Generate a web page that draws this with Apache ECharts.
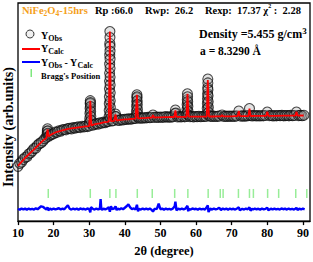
<!DOCTYPE html>
<html>
<head>
<meta charset="utf-8">
<script src="https://cdn.jsdelivr.net/npm/echarts@6/dist/echarts.min.js"></script>
<style>
  html, body { margin: 0; padding: 0; background: #fff; }
  #chart { width: 313px; height: 262px; }
</style>
</head>
<body>
<div id="chart"></div>
<script>
// observed pattern [2theta, intensity] (arb. units)
const obsData = [
  [10,555],[10.5,585],[11,598],[11.5,625],[12,645],[12.5,652],[13,680],[13.5,690],[14,712],[14.5,735],
  [15,740],[15.5,768],[16,785],[16.5,795],[17,812],[17.5,835],[18,850],
  [18.2,880],[18.25,910],[18.3,935],[18.35,915],[18.4,890],
  [18.7,860],[19,872],[19.5,878],[20,885],[20.5,902],[21,900],[21.5,915],[22,912],[22.5,925],[23,928],
  [23.5,925],[24,938],[24.5,940],[25,935],[25.5,948],[26,942],[26.5,950],[27,955],[27.5,948],[28,960],
  [28.5,955],[29,962],[29.5,958],[30,965],
  [30.12,1000],[30.16,1040],[30.2,1090],[30.24,1140],[30.27,1190],[30.3,1220],[30.33,1200],[30.36,1160],
  [30.4,1110],[30.44,1060],[30.48,1020],
  [31,972],[31.5,980],[32,988],[32.5,983],[33,995],[33.5,992],[34,1002],[34.5,998],[35,1008],[35.4,1010],
  [35.6,1060],[35.62,1120],[35.64,1190],[35.66,1260],[35.68,1340],[35.7,1420],[35.72,1500],[35.74,1590],
  [35.76,1680],[35.78,1800],[35.8,1920],[35.82,1860],[35.83,1770],[35.84,1720],[35.85,1640],[35.86,1550],
  [35.87,1460],[35.88,1380],[35.9,1300],[35.91,1220],[35.93,1150],[35.95,1090],[35.98,1040],
  [36.3,1015],[36.7,1018],[37.3,1060],[37.4,1085],[37.5,1060],[38,1022],[38.5,1020],[39,1028],[39.5,1025],
  [40,1032],[40.5,1030],[41,1036],[41.5,1033],[42,1035],[42.5,1040],[43,1040],
  [43.22,1070],[43.26,1110],[43.3,1160],[43.34,1210],[43.37,1250],[43.4,1280],[43.43,1260],[43.47,1220],
  [43.5,1180],[43.54,1130],[43.58,1090],[43.64,1055],
  [44,1042],[44.5,1045],[45,1042],[45.5,1048],[46,1045],[46.5,1050],[47,1048],[47.5,1052],[47.9,1075],
  [48.3,1050],[49,1053],[49.5,1050],[50,1055],[50.5,1052],[51,1054],[51.5,1058],[52,1053],[52.5,1056],
  [53,1054],[53.5,1058],[54.1,1090],[54.2,1125],[54.3,1095],[54.8,1056],[55.3,1058],[55.8,1055],
  [56.3,1060],[56.8,1057],[57.3,1060],
  [57.42,1090],[57.46,1130],[57.5,1180],[57.54,1230],[57.58,1290],[57.62,1260],[57.66,1210],[57.7,1160],
  [57.74,1110],[57.8,1075],
  [58.3,1058],[58.8,1060],[59.3,1056],[59.8,1060],[60.3,1058],[60.8,1062],[61.3,1058],[61.8,1060],
  [62.3,1062],[62.8,1060],
  [63.1,1090],[63.14,1140],[63.18,1190],[63.21,1240],[63.24,1290],[63.27,1350],[63.3,1440],[63.32,1400],
  [63.35,1330],[63.38,1270],[63.42,1210],[63.46,1150],[63.5,1100],[63.56,1070],
  [64,1062],[64.5,1060],[65,1063],[65.5,1060],[66,1062],[66.5,1064],[67.3,1075],[67.8,1060],[68.3,1063],
  [68.8,1061],[69.3,1064],[69.8,1062],[70.3,1064],[70.8,1061],[71.3,1066],[72,1115],[72.6,1064],
  [73.1,1066],[73.6,1063],[74.1,1066],[74.6,1068],[75,1140],[75.4,1068],[75.9,1066],[76.4,1070],
  [76.9,1066],[77.4,1068],[77.9,1065],[78.4,1069],[78.9,1067],[79.4,1070],[80,1105],[80.6,1068],
  [81.1,1070],[81.6,1066],[82.1,1069],[82.6,1067],[83.1,1070],[83.6,1068],[84.1,1071],[84.6,1067],
  [85.1,1069],[85.6,1070],[86.1,1067],[86.6,1071],[87.1,1068],[87.6,1070],[88.2,1105],[88.8,1069],
  [89.3,1071],[89.8,1068],[90.3,1072]
];

// calculated profile
const calcData = [
  [10,560],[11,600],[12,640],[13,675],[14,710],[15,745],[16,780],[17,815],[18,845],[18.3,930],[18.6,858],
  [19,870],[20,890],[21,905],[22,915],[23,925],[24,935],[25,940],[26,945],[27,950],[28,955],[29,960],
  [30,963],[30.3,1220],[30.6,968],[31,975],[32,985],[33,990],[34,1000],[35,1005],[35.5,1008],[35.8,1920],
  [36.1,1012],[37,1015],[37.4,1080],[37.7,1018],[38,1020],[39,1025],[40,1030],[41,1032],[42,1035],
  [43,1038],[43.4,1280],[43.7,1040],[44,1040],[45,1043],[46,1045],[47,1048],[47.6,1049],[47.9,1073],
  [48.2,1050],[49,1051],[50,1052],[51,1053],[52,1054],[53,1055],[53.9,1055],[54.2,1123],[54.5,1056],
  [55,1056],[56,1057],[57,1057],[57.3,1057],[57.6,1290],[57.9,1058],[59,1058],[60,1058],[61,1059],
  [62,1059],[63,1060],[63.3,1430],[63.6,1060],[65,1060],[66,1061],[67,1061],[67.3,1073],[67.6,1061],
  [69,1062],[70,1062],[71,1063],[71.7,1063],[72,1117],[72.3,1063],[74,1064],[74.7,1064],[75,1140],
  [75.3,1065],[77,1066],[79,1066],[79.7,1067],[80,1107],[80.3,1067],[82,1067],[85,1068],[87.9,1068],
  [88.2,1107],[88.5,1069],[90.2,1070]
];

// difference curve (obs - calc), shown offset near the bottom
const diffData = [
  [10,125],[10.5,115],[11,128],[11.5,118],[12,126],[12.5,116],[13,127],[13.5,119],[14,125],[14.5,117],
  [15,129],[15.5,120],[16,135],[16.5,150],[17,145],[17.5,130],[18,118],[18.3,140],[18.5,110],[19,126],
  [19.5,117],[20,128],[20.5,118],[21,125],[21.5,130],[22,118],[22.5,127],[23,120],[23.5,140],[24,160],
  [24.5,125],[25,117],[25.5,127],[26,119],[26.5,126],[27,116],[27.5,128],[28,120],[28.5,125],[29,117],
  [29.5,128],[30,120],[30.3,90],[30.5,140],[31,125],[31.5,117],[32,127],[32.5,120],[33,125],[33.2,223],
  [33.4,120],[33.7,115],[34,128],[34.5,119],[35,127],[35.5,140],[35.8,95],[36.1,150],[36.5,120],[37,128],
  [37.4,150],[37.7,112],[38,126],[38.5,118],[39,130],[39.5,120],[40,135],[40.5,150],[41,170],[41.5,140],
  [42,122],[42.5,128],[43,118],[43.4,165],[43.7,100],[44,124],[44.5,117],[45,128],[45.5,119],[46,126],
  [46.5,118],[47,127],[47.5,115],[47.9,97],[48.3,122],[49,125],[49.5,178],[50,120],[50.5,126],[51,116],
  [51.5,128],[52,119],[52.5,125],[53,117],[53.5,128],[54,150],[54.2,197],[54.5,110],[55,126],[55.5,118],
  [56,128],[56.5,119],[57,126],[57.6,155],[57.8,100],[58,124],[58.5,117],[59,128],[59.5,120],[60,125],
  [60.5,116],[61,127],[61.5,119],[62,125],[62.5,117],[63,140],[63.3,160],[63.5,92],[64,126],[64.5,117],
  [65,128],[65.5,119],[66,125],[66.5,135],[67,112],[67.5,128],[68,119],[68.5,126],[69,116],[69.5,127],
  [70,120],[70.5,125],[71,117],[71.5,128],[72,140],[72.3,110],[73,125],[73.5,117],[74,127],[74.5,120],
  [75,140],[75.3,105],[75.7,125],[76,118],[76.5,127],[77,120],[77.5,125],[78,116],[78.5,128],[79,119],
  [79.5,125],[80,135],[80.3,110],[81,126],[81.5,118],[82,127],[82.5,119],[83,125],[83.5,117],[84,128],
  [84.5,120],[85,126],[85.5,117],[86,127],[86.5,119],[87,125],[87.5,117],[88,128],[88.2,135],[88.5,112],
  [89,126],[89.5,118],[90,127],[90.5,120]
];

// Bragg reflection positions (2theta)
const braggPos = [18.5, 30.3, 35.8, 37.5, 43.5, 47.7, 54.0, 57.7, 63.4, 66.8, 67.6, 71.9, 75.0, 76.1, 80.1, 83.2, 88.0, 91.1];
const braggLevel = 280;

const xTicks = [10, 20, 30, 40, 50, 60, 70, 80, 90];

const serif = 'Liberation Serif';
const chart = echarts.init(document.getElementById('chart'), null, { renderer: 'svg' });

const subRich = {
  m: { fontFamily: serif, fontWeight: 'bold', fontSize: 10, lineHeight: 15, fill: '#000' },
  s: { fontFamily: serif, fontWeight: 'bold', fontSize: 8, lineHeight: 7, verticalAlign: 'bottom', fill: '#000' }
};

const option = {
  animation: false,
  backgroundColor: '#fff',
  grid: { left: 18, right: 3, top: 3, bottom: 38, show: true, borderColor: '#000', borderWidth: 1.3 },
  xAxis: {
    type: 'value', min: 10, max: 92, interval: 10,
    axisLine: { show: true, lineStyle: { color: '#000', width: 1.3 } },
    axisTick: { show: true, length: 4, customValues: xTicks, lineStyle: { color: '#000', width: 1.3 } },
    axisLabel: { customValues: xTicks, color: '#000', fontFamily: serif, fontWeight: 'bold', fontSize: 12, margin: 6 },
    splitLine: { show: false },
    name: '2θ (degree)', nameLocation: 'middle', nameGap: 22,
    nameTextStyle: { color: '#000', fontFamily: serif, fontWeight: 'bold', fontSize: 12.5 }
  },
  yAxis: {
    type: 'value', min: 0, max: 2210,
    axisLine: { show: false }, axisTick: { show: false }, axisLabel: { show: false }, splitLine: { show: false }
  },
  series: [
    {
      name: 'YObs', type: 'scatter', data: obsData, symbol: 'circle', symbolSize: 10,
      itemStyle: { color: 'rgba(150,150,150,0.35)', borderColor: 'rgba(10,10,10,0.9)', borderWidth: 1.1 },
      z: 1
    },
    {
      name: 'YCalc', type: 'line', data: calcData, symbol: 'none',
      lineStyle: { color: '#ff0000', width: 1.8 }, z: 3
    },
    {
      name: 'YObs - YCalc', type: 'line', data: diffData, symbol: 'none',
      lineStyle: { color: '#0000ff', width: 2.4 }, z: 3
    },
    {
      name: "Bragg's Position", type: 'scatter', data: braggPos.map(p => [p, braggLevel]),
      symbol: 'rect', symbolSize: [1.5, 9], itemStyle: { color: '#7ee87e' }, z: 2
    }
  ],
  graphic: [
    // header line
    { type: 'text', x: 22, y: 10, style: {
      text: '{o|NiFe}{os|2}{o|O}{os|4}{o|-15hrs}', verticalAlign: 'middle',
      rich: {
        o: { fontFamily: serif, fontWeight: 'bold', fontSize: 10.5, lineHeight: 14, fill: '#f5a01a' },
        os: { fontFamily: serif, fontWeight: 'bold', fontSize: 7.5, lineHeight: 6, verticalAlign: 'bottom', fill: '#f5a01a' }
      } } },
    { type: 'text', x: 95, y: 10, style: { text: 'Rp :66.0', font: 'bold 10.5px "Liberation Serif"', fill: '#000', verticalAlign: 'middle' } },
    { type: 'text', x: 145, y: 10, style: { text: 'Rwp:  26.2', font: 'bold 10.5px "Liberation Serif"', fill: '#000', verticalAlign: 'middle' } },
    { type: 'text', x: 205, y: 10, style: {
      text: '{t|Rexp:  17.37 χ}{u|2}{t| :  2.28}', verticalAlign: 'middle',
      rich: {
        t: { fontFamily: serif, fontWeight: 'bold', fontSize: 10.5, lineHeight: 14, fill: '#000' },
        u: { fontFamily: serif, fontWeight: 'bold', fontSize: 6, lineHeight: 6, verticalAlign: 'top', fill: '#000' }
      } } },
    // density / lattice
    { type: 'text', x: 199, y: 34, style: {
      text: '{t|Density =5.455 g/cm}{u|3}', verticalAlign: 'middle',
      rich: {
        t: { fontFamily: serif, fontWeight: 'bold', fontSize: 12, lineHeight: 16, fill: '#000' },
        u: { fontFamily: serif, fontWeight: 'bold', fontSize: 9, lineHeight: 8, verticalAlign: 'top', fill: '#000' }
      } } },
    { type: 'text', x: 200, y: 51, style: { text: 'a = 8.3290 Å', font: 'bold 11.5px "Liberation Serif"', fill: '#000', verticalAlign: 'middle' } },
    // legend
    { type: 'circle', shape: { cx: 30, cy: 34, r: 4 }, style: { fill: 'rgba(230,230,230,0.6)', stroke: '#222', lineWidth: 0.9 } },
    { type: 'text', x: 41, y: 35, style: { text: '{m|Y}{s|Obs}', verticalAlign: 'middle', rich: subRich } },
    { type: 'line', shape: { x1: 22, y1: 49, x2: 40, y2: 49 }, style: { stroke: '#ff0000', lineWidth: 2 } },
    { type: 'text', x: 41, y: 48, style: { text: '{m|Y}{s|Calc}', verticalAlign: 'middle', rich: subRich } },
    { type: 'line', shape: { x1: 22, y1: 62, x2: 40, y2: 62 }, style: { stroke: '#0000ff', lineWidth: 2 } },
    { type: 'text', x: 41, y: 62, style: { text: '{m|Y}{s|Obs}{m| - Y}{s|Calc}', verticalAlign: 'middle', rich: subRich } },
    { type: 'rect', shape: { x: 30.5, y: 69, width: 1.5, height: 8 }, style: { fill: '#7ee87e' } },
    { type: 'text', x: 41, y: 76, style: { text: "Bragg's Position", font: 'bold 8.5px "Liberation Serif"', fill: '#000', verticalAlign: 'middle' } },
    // y axis title
    { type: 'text', x: 8, y: 127, rotation: Math.PI / 2, style: {
      text: 'Intensity (arb.units)', font: 'bold 14px "Liberation Serif"', fill: '#000', align: 'center', verticalAlign: 'middle' } }
  ]
};

chart.setOption(option);
</script>
</body>
</html>
